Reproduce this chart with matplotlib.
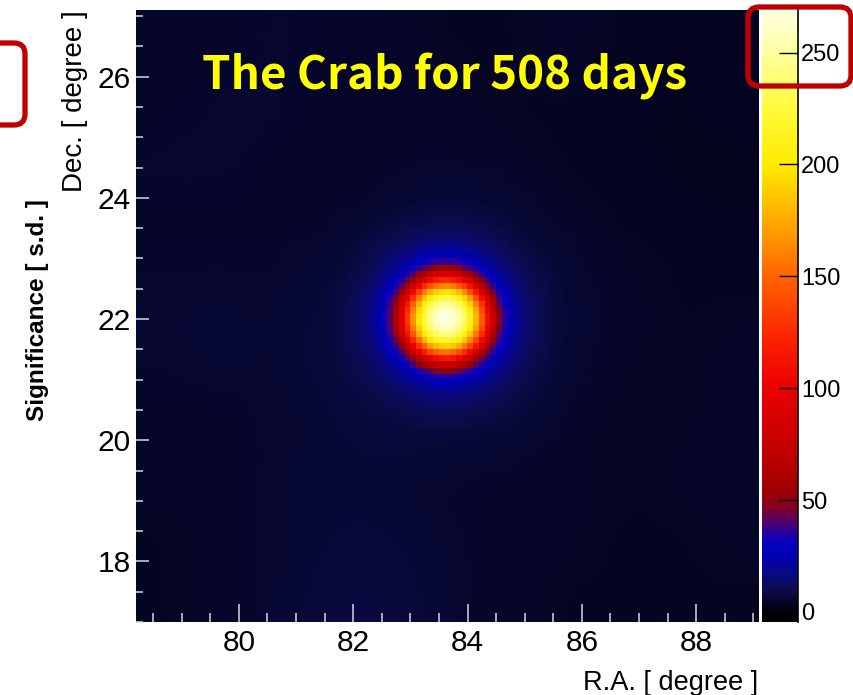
import matplotlib
matplotlib.use("Agg")
import matplotlib.pyplot as plt
import numpy as np
from matplotlib.colors import LinearSegmentedColormap
from matplotlib.patches import FancyBboxPatch
from matplotlib.ticker import MultipleLocator

plt.rcParams["font.family"] = ["Liberation Sans", "DejaVu Sans"]

# sky window and source position (deg)
RA_RANGE = (78.2, 89.1)
DEC_RANGE = (17.0, 27.1)
BIN = 0.1
CRAB_RA = 83.62
CRAB_DEC = 22.01

# radial significance profile of the Crab (angular distance in deg -> s.d.)
profile_r = [0.0, 0.1, 0.2, 0.3, 0.4, 0.5, 0.6, 0.7, 0.8, 0.9,
             1.0, 1.1, 1.2, 1.3, 1.4, 1.6, 2.0, 3.0]
profile_sig = [268, 262, 249, 229, 204, 172, 134, 94, 58, 35,
               24, 17, 12, 9, 7, 4, 1.5, 0]

# background significance on a 1-deg grid, rows from Dec 26.5 down to 17.5,
# columns RA 78.7 ... 88.7
bg_ra = [78.7, 79.7, 80.7, 81.7, 82.7, 83.7, 84.7, 85.7, 86.7, 87.7, 88.7]
bg_dec = [26.5, 25.5, 24.5, 23.5, 22.5, 21.5, 20.5, 19.5, 18.5, 17.5]
bg_sig = [
    [5, 5, 6, 5, 5, 4, 4, 5, 4, 4, 4],
    [5, 6, 6, 5, 5, 5, 4, 4, 4, 3, 4],
    [6, 6, 5, 4, 5, 5, 5, 4, 4, 3, 3],
    [5, 5, 5, 5, 5, 6, 5, 5, 4, 4, 4],
    [6, 6, 6, 5, 6, 7, 6, 5, 5, 4, 4],
    [6, 7, 6, 6, 6, 7, 6, 5, 5, 4, 5],
    [5, 5, 6, 6, 6, 6, 6, 5, 4, 4, 5],
    [5, 5, 6, 7, 6, 5, 5, 5, 4, 5, 5],
    [4, 5, 6, 7, 7, 6, 5, 5, 4, 4, 5],
    [4, 5, 6, 8, 8, 6, 5, 4, 4, 4, 4],
]

cbar_ticks = [0, 50, 100, 150, 200, 250]
VMIN, VMAX = -4.5, 269

# ROOT-like palette: black -> blue -> dark red -> red -> orange -> yellow -> white
pal_stops = [
    (-4.5, (0, 0, 0)), (0, (0, 0, 10)), (5, (6, 6, 42)), (10, (12, 12, 80)),
    (18, (8, 8, 140)), (26, (0, 0, 185)), (32, (10, 0, 190)),
    (40, (80, 0, 110)), (47, (130, 0, 30)), (55, (160, 0, 0)),
    (75, (200, 0, 0)), (100, (235, 0, 0)), (120, (250, 30, 0)),
    (150, (255, 100, 0)), (175, (255, 170, 0)), (200, (255, 235, 0)),
    (225, (255, 250, 60)), (250, (255, 255, 160)), (269, (255, 255, 225)),
]
cmap = LinearSegmentedColormap.from_list(
    "sig", [((v - VMIN) / (VMAX - VMIN), tuple(c / 255 for c in rgb))
            for v, rgb in pal_stops], N=2048)

# bin centres of the map
ra_c = np.arange(RA_RANGE[0] + BIN / 2, RA_RANGE[1], BIN)
dec_c = np.arange(DEC_RANGE[0] + BIN / 2, DEC_RANGE[1], BIN)
RA, DEC = np.meshgrid(ra_c, dec_c)

# background: bilinear resampling of the coarse grid, then a gaussian blur
bg = np.array(bg_sig, dtype=float)[::-1]
dec_asc = np.array(bg_dec[::-1])
tmp = np.array([np.interp(ra_c, bg_ra, row) for row in bg])
bg_map = np.array([np.interp(dec_c, dec_asc, col) for col in tmp.T]).T

k = np.exp(-0.5 * (np.arange(-12, 13) / 4.0) ** 2)
k /= k.sum()
pad = np.pad(bg_map, 12, mode="edge")
pad = np.apply_along_axis(lambda v: np.convolve(v, k, mode="same"), 0, pad)
pad = np.apply_along_axis(lambda v: np.convolve(v, k, mode="same"), 1, pad)
bg_map = pad[12:-12, 12:-12]

# source: radial profile around the Crab
dist = np.hypot((RA - CRAB_RA) * np.cos(np.radians(CRAB_DEC)), DEC - CRAB_DEC)
sig_map = bg_map + np.interp(dist, profile_r, profile_sig)

fig = plt.figure(figsize=(8.54, 6.95), dpi=100)
W, H = 854, 695

ax = fig.add_axes([136 / W, (H - 622) / H, (759 - 136) / W, (622 - 10) / H])
im = ax.imshow(sig_map, origin="lower", cmap=cmap, vmin=VMIN, vmax=VMAX,
               extent=[RA_RANGE[0], RA_RANGE[1], DEC_RANGE[0], DEC_RANGE[1]],
               aspect="auto", interpolation="nearest")
ax.set_xlim(*RA_RANGE)
ax.set_ylim(*DEC_RANGE)
for sp in ax.spines.values():
    sp.set_visible(False)
ax.xaxis.set_major_locator(MultipleLocator(2))
ax.xaxis.set_minor_locator(MultipleLocator(0.5))
ax.yaxis.set_major_locator(MultipleLocator(2))
ax.yaxis.set_minor_locator(MultipleLocator(0.5))
ax.tick_params(axis="x", which="major", direction="in", length=13, width=1.1,
               color="#d8d8d8", labelsize=21.5, pad=5)
ax.tick_params(axis="x", which="minor", direction="in", length=6.5, width=1.1,
               color="#d8d8d8")
ax.tick_params(axis="y", which="major", direction="in", length=9, width=1.1,
               color="#d8d8d8", labelsize=21.5, pad=4)
ax.tick_params(axis="y", which="minor", direction="in", length=5, width=1.1,
               color="#d8d8d8")

# colour scale
cax = fig.add_axes([762 / W, (H - 622) / H, 36 / W, (622 - 10) / H])
cb = fig.colorbar(im, cax=cax)
cb.outline.set_visible(False)
cb.set_ticks(cbar_ticks)
cax.minorticks_off()
cax.tick_params(axis="y", direction="in", length=14, width=1.0, color="black",
                labelsize=17, pad=2, right=True, left=False)
cax.axvline(1.0, color="black", lw=1.2, clip_on=False)

# axis titles
fig.text(758 / W, 1 - 690 / H, "R.A. [ degree ]", ha="right", va="baseline",
         fontsize=19.5)
fig.text(75 / W, 1 - 10 / H, "Dec. [ degree ]", rotation=90, ha="center",
         va="top", fontsize=20)
fig.text(38 / W, 1 - 310 / H, "Significance [ s.d. ]", rotation=90,
         ha="center", va="center", fontsize=17.5, fontweight="bold")

fig.text(445 / W, 1 - 89 / H, "The Crab for 508 days", ha="center",
         va="baseline", fontsize=33, fontweight="bold", color="#ffff00",
         family=["Noto Sans CJK SC", "DejaVu Sans"])

# highlight boxes
ov = fig.add_axes([0, 0, 1, 1], facecolor="none")
ov.set_xlim(0, W)
ov.set_ylim(H, 0)
ov.axis("off")
for x0, y0, x1, y1 in [(-20, 43, 25, 125), (748, 7, 851, 86)]:
    ov.add_patch(FancyBboxPatch((x0, y0), x1 - x0, y1 - y0,
                                boxstyle="round,pad=0,rounding_size=11",
                                fill=False, ec="#c00000", lw=3.8,
                                clip_on=False))

fig.savefig("out.png", dpi=100)
